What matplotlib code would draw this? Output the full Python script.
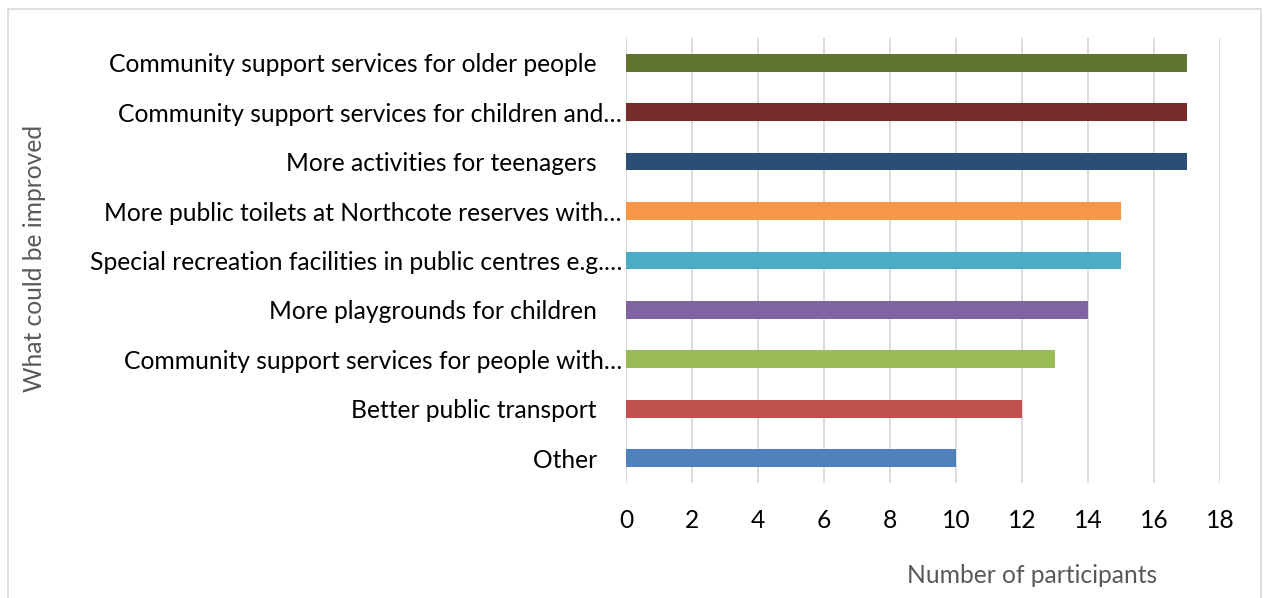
import matplotlib.pyplot as plt
from matplotlib.patches import Rectangle

categories = [
    "Other    ",
    "Better public transport    ",
    "Community support services for people with…",
    "More playgrounds for children    ",
    "Special recreation facilities in public centres e.g.…",
    "More public toilets at Northcote reserves with…",
    "More activities for teenagers    ",
    "Community support services for children and…",
    "Community support services for older people    ",
]
values = [10, 12, 13, 14, 15, 15, 17, 17, 17]
colors = ["#4F81BD", "#C0504D", "#9BBB59", "#8064A2", "#4BACC6",
          "#F79646", "#2C4D75", "#772C2A", "#5F7530"]
xticks = list(range(0, 19, 2))

plt.rcParams['font.family'] = ['Lato', 'DejaVu Sans']
fs = 17.7

fig = plt.figure(figsize=(12.64, 5.98), dpi=100)
ax = fig.add_axes([0.4953, 0.1923, 0.4699, 0.7442])

ax.barh(range(len(values)), values, height=0.36, color=colors, zorder=3)

ax.set_xlim(0, 18)
ax.set_ylim(-0.5, len(values) - 0.5)
ax.set_xticks(xticks)
ax.set_yticks(range(len(values)))
ax.set_yticklabels(categories, fontsize=fs)
ax.tick_params(axis='x', labelsize=fs, length=0, pad=19)
ax.tick_params(axis='y', length=0, pad=3)
ax.grid(axis='x', color='#D9D9D9', linewidth=1.3, zorder=0)
for s in ax.spines.values():
    s.set_visible(False)

fig.text(0.8165, 0.038, "Number of participants", fontsize=fs,
         color='#595959', ha='center', va='center')
fig.text(0.027, 0.568, "What could be improved", fontsize=fs,
         color='#595959', ha='center', va='center', rotation=90)

# chart border
fig.patches.append(Rectangle((0.0065, -0.01), 0.9915, 0.995, transform=fig.transFigure,
                             fill=False, edgecolor='#D9D9D9', linewidth=1.2))

fig.savefig("out.png", dpi=100)
